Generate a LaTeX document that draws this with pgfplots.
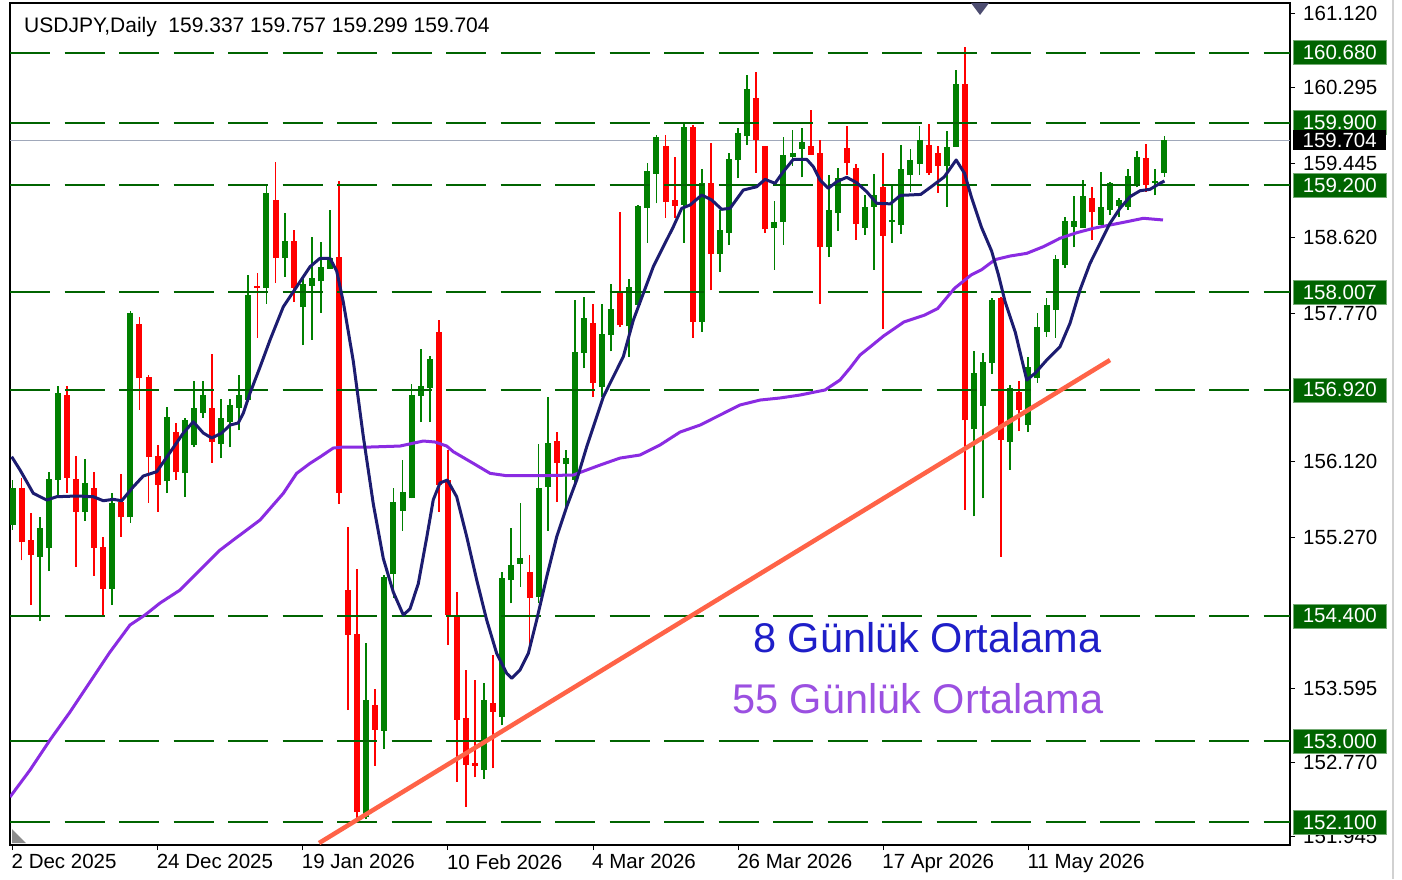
\documentclass[border=0pt]{standalone}
\usepackage{fontspec}
\setmainfont{Liberation Sans}
\usepackage{pgfplots}
\usepackage{pgfplotstable}
\pgfplotsset{compat=1.18}

\definecolor{cgreen}{RGB}{0,128,0}
\definecolor{cred}{RGB}{255,0,0}
\definecolor{lvlgreen}{RGB}{0,100,0}
\definecolor{ma8}{RGB}{28,28,112}
\definecolor{ma55}{RGB}{138,43,226}
\definecolor{trend}{RGB}{255,99,71}
\definecolor{bidgray}{RGB}{160,168,186}
\definecolor{txt8}{RGB}{30,30,200}
\definecolor{txt55}{RGB}{155,80,225}

\pgfplotstableread{
i O H L C
0 155.41 155.92 155.36 155.83
3 155.06 155.50 154.34 155.38
4 155.16 156.00 154.90 155.93
5 155.92 156.96 155.75 156.89
8 155.56 156.15 155.46 155.88
11 154.70 155.77 154.52 155.66
13 155.50 157.80 155.44 157.78
17 155.90 156.73 155.77 156.62
19 155.99 156.61 155.73 156.58
20 156.31 157.02 156.28 156.72
21 156.66 157.02 156.61 156.86
23 156.32 156.82 156.16 156.61
24 156.56 156.82 156.28 156.75
25 156.72 157.09 156.47 156.86
26 156.81 158.20 156.79 157.98
28 158.06 159.21 157.88 159.12
30 158.39 158.89 158.18 158.58
32 157.84 158.17 157.42 158.10
33 158.08 158.63 157.48 158.17
34 158.13 158.57 157.78 158.29
35 158.27 158.93 158.27 158.39
39 152.16 154.10 152.14 153.46
41 153.12 154.86 152.92 154.83
42 154.87 155.83 154.60 155.67
43 155.57 156.14 155.35 155.78
44 155.71 156.99 155.71 156.86
45 156.85 157.38 156.56 156.96
46 156.94 157.30 156.56 157.26
52 152.68 153.65 152.58 153.46
54 153.27 154.89 153.18 154.82
55 154.80 155.38 154.54 154.97
56 154.98 155.66 154.72 155.05
58 154.61 156.32 154.54 155.83
59 155.84 156.84 155.35 156.33
61 156.09 156.25 155.58 156.16
62 155.92 157.92 155.88 157.34
63 157.33 157.96 157.16 157.72
65 156.95 157.88 156.84 157.54
66 157.53 158.10 157.35 157.82
68 157.63 158.16 157.29 158.07
69 157.87 158.98 157.87 158.97
70 158.95 159.45 158.56 159.36
71 159.33 159.76 159.00 159.74
74 158.98 159.91 158.56 159.85
76 157.68 159.38 157.57 159.23
78 158.44 158.93 158.24 158.70
79 158.67 159.56 158.54 159.50
80 159.48 159.84 159.28 159.79
81 159.75 160.43 159.65 160.28
84 158.73 159.03 158.26 158.79
85 158.79 159.74 158.54 159.54
86 159.52 159.82 159.42 159.56
87 159.61 159.84 159.29 159.68
90 158.51 159.32 158.40 158.93
91 158.89 159.40 158.69 159.28
94 158.73 159.09 158.65 158.96
95 158.96 159.33 158.26 159.09
97 158.79 159.22 158.56 158.80
98 158.76 159.65 158.66 159.38
99 159.32 159.61 159.13 159.48
100 159.44 159.86 159.32 159.71
103 159.42 159.81 158.96 159.63
104 159.63 160.49 159.63 160.33
106 156.48 157.35 155.51 157.11
107 156.74 157.33 155.71 157.23
108 157.22 157.95 157.10 157.92
110 156.34 156.98 156.03 156.94
112 156.53 157.29 156.45 157.18
113 157.05 157.78 157.00 157.62
114 157.57 157.95 157.51 157.87
115 157.81 158.42 157.50 158.38
116 158.31 158.85 158.28 158.80
117 158.74 159.08 158.51 158.80
118 158.73 159.26 158.73 159.08
120 158.76 159.35 158.76 158.96
121 158.93 159.24 158.87 159.23
122 158.97 159.06 158.85 159.04
123 158.96 159.38 158.93 159.31
124 159.19 159.58 159.18 159.52
126 159.23 159.38 159.09 159.24
127 159.337 159.757 159.299 159.704
}\greens

\pgfplotstableread{
i O H L C
1 155.83 155.94 155.02 155.22
2 155.25 155.55 154.52 155.08
6 156.86 156.96 155.77 155.94
7 155.93 156.18 154.95 155.56
9 155.83 156.00 154.85 155.16
10 155.17 155.28 154.41 154.70
12 155.67 155.98 155.28 155.50
14 157.66 157.73 156.70 157.05
15 157.06 157.09 155.66 156.17
16 156.18 156.31 155.56 155.86
18 156.45 156.55 155.92 156.00
22 156.72 157.32 156.11 156.34
27 158.08 158.22 157.50 158.06
29 159.04 159.46 158.11 158.39
31 158.58 158.70 157.90 158.06
36 158.40 159.25 155.65 155.77
37 154.69 155.39 153.35 154.19
38 154.20 154.92 152.15 152.21
40 153.41 153.58 152.73 153.13
47 157.57 157.70 155.56 155.86
48 155.92 156.25 154.08 154.41
49 154.41 154.67 152.55 153.24
50 153.26 153.80 152.27 152.74
51 152.76 153.69 152.60 152.73
53 153.43 153.96 152.70 153.33
57 154.89 155.08 154.08 154.60
60 156.35 156.45 155.67 156.11
64 157.67 157.88 156.84 157.00
67 158.00 158.90 157.62 157.64
72 159.64 159.76 158.84 159.02
73 159.04 159.52 158.84 158.97
75 159.85 159.87 157.50 157.68
77 159.23 159.67 158.03 158.44
82 160.18 160.47 159.34 159.71
83 159.64 159.64 158.67 158.71
88 159.64 160.04 159.54 159.54
89 159.56 159.71 157.88 158.51
92 159.62 159.86 159.32 159.45
93 159.40 159.44 158.59 158.77
96 159.18 159.56 157.60 158.64
101 159.65 159.89 159.32 159.34
102 159.56 159.64 159.12 159.42
105 160.33 160.74 155.58 156.58
109 157.95 157.96 155.06 156.36
111 156.90 157.02 156.46 156.70
119 159.06 159.18 158.59 158.90
125 159.51 159.66 159.13 159.21
}\reds

\pgfplotstableread{
i v
-0.09 156.175
0.83 156.027
1.57 155.896
2.29 155.767
3.77 155.692
4.87 155.729
7.08 155.737
8.91 155.729
10.01 155.684
11.11 155.700
12.04 155.684
13.32 155.840
14.42 155.960
15.90 156.008
17.55 156.250
18.83 156.439
19.93 156.565
21.04 156.439
21.96 156.384
23.06 156.439
23.98 156.528
24.89 156.551
25.45 156.662
26.19 156.885
27.29 157.175
28.39 157.476
29.86 157.848
31.33 158.071
32.80 158.294
33.90 158.388
35.00 158.388
35.74 158.246
36.47 157.900
37.57 157.242
38.68 156.398
39.78 155.647
40.88 155.041
41.98 154.666
43.09 154.410
43.83 154.479
44.74 154.760
45.67 155.275
46.39 155.695
47.13 155.882
47.94 155.915
48.97 155.729
50.08 155.283
51.18 154.800
52.28 154.354
53.38 153.982
54.49 153.759
55.04 153.704
55.95 153.796
56.87 153.982
57.79 154.354
58.90 154.837
60.00 155.283
61.10 155.617
62.20 155.915
63.31 156.287
65.14 156.844
66.24 157.067
67.34 157.290
68.45 157.699
69.55 157.997
70.65 158.294
71.75 158.517
72.86 158.740
73.78 158.945
74.70 158.982
75.99 159.093
77.09 159.038
78.19 158.934
79.11 158.945
80.57 159.149
82.05 159.186
82.97 159.268
84.07 159.224
84.98 159.353
86.09 159.492
87.56 159.492
88.29 159.409
89.03 159.261
89.94 159.168
90.87 159.242
91.97 159.291
93.07 159.231
94.18 159.130
95.28 159.001
96.78 158.995
97.89 159.089
100.13 159.100
101.25 159.183
102.73 159.296
104.04 159.484
104.97 159.334
105.72 159.070
106.84 158.731
107.95 158.468
108.70 158.203
109.44 157.902
110.56 157.563
111.82 157.030
112.73 157.105
114.02 157.253
115.49 157.402
116.59 157.663
117.69 158.034
118.80 158.332
119.90 158.555
121.00 158.778
122.10 158.945
123.21 159.075
124.31 159.141
125.41 159.157
126.51 159.224
127.00 159.250
}\maeight

\pgfplotstableread{
i v
-0.28 152.380
1.93 152.681
4.13 153.016
6.34 153.328
8.54 153.662
10.75 153.997
12.95 154.298
14.61 154.410
16.26 154.543
18.47 154.688
20.67 154.911
22.88 155.134
24.34 155.246
27.29 155.469
29.86 155.767
31.33 155.990
32.80 156.101
33.90 156.172
35.37 156.272
36.47 156.283
39.41 156.283
42.72 156.294
45.29 156.350
46.58 156.339
47.87 156.294
48.60 156.231
50.80 156.101
52.65 155.990
54.49 155.963
58.16 155.963
61.83 155.971
63.31 156.027
64.78 156.082
66.98 156.160
69.18 156.194
71.39 156.306
73.60 156.450
75.80 156.528
78.01 156.640
80.21 156.752
82.42 156.807
84.62 156.830
86.82 156.863
89.58 156.919
91.23 157.030
92.34 157.164
93.44 157.309
94.54 157.398
96.03 157.521
98.27 157.677
100.50 157.752
102.00 157.827
103.86 158.053
105.72 158.204
106.84 158.260
108.33 158.373
109.98 158.413
111.82 158.443
113.65 158.517
115.49 158.611
117.33 158.673
119.16 158.722
121.00 158.759
122.85 158.796
124.68 158.834
126.84 158.815
}\mafifty

\begin{document}
\begin{tikzpicture}[x=1pt,y=1pt]
\useasboundingbox (0,0) rectangle (1402,879);
\fill[white] (0,0) rectangle (1402,879);
\draw[black!18, line width=2pt] (1393,0) -- (1393,879);
\begin{axis}[
  at={(10pt,34pt)}, anchor=south west,
  scale only axis, width=1280pt, height=842pt,
  xmin=-0.276, xmax=140.85, ymin=151.845, ymax=161.235,
  axis line style={black, line width=1.2pt},
  tick align=outside, major tick length=5pt,
  tick style={black, line width=1pt},
  xtick pos=left, ytick pos=right, yticklabel pos=right,
  xtick={0,16,32,48,64,80,96,112},
  xticklabels={2 Dec 2025, 24 Dec 2025, 19 Jan 2026, 10 Feb 2026, 4 Mar 2026, 26 Mar 2026, 17 Apr 2026, 11 May 2026},
  ytick={161.12,160.295,159.445,158.62,157.77,156.12,155.27,153.595,152.77,151.945},
  yticklabels={161.120,160.295,159.445,158.620,157.770,156.120,155.270,153.595,152.770,151.945},
  ticklabel style={font=\fontsize{20.5}{24}\selectfont, inner sep=0pt},
  xticklabel style={anchor=north west, xshift=-1pt, yshift=-4pt},
  yticklabel style={anchor=west, xshift=8pt},
]
\addplot[bidgray, line width=1.5pt, forget plot] coordinates {(-0.276,159.704) (140.85,159.704)};
% wicks
\addplot[draw=none, no markers, forget plot, error bars/.cd, y dir=plus, y explicit, error mark=none,
  error bar style={draw=cgreen, solid, line width=1.8pt}]
  table[x=i, y=L, y error plus expr=\thisrow{H}-\thisrow{L}] {\greens};
\addplot[draw=none, no markers, forget plot, error bars/.cd, y dir=plus, y explicit, error mark=none,
  error bar style={draw=cred, solid, line width=1.8pt}]
  table[x=i, y=L, y error plus expr=\thisrow{H}-\thisrow{L}] {\reds};
% bodies
\addplot[draw=none, no markers, forget plot, error bars/.cd, y dir=plus, y explicit, error mark=none,
  error bar style={draw=cgreen, solid, line width=6pt}]
  table[x=i, y=O, y error plus expr={max(\thisrow{C}-\thisrow{O},0.02)}] {\greens};
\addplot[draw=none, no markers, forget plot, error bars/.cd, y dir=plus, y explicit, error mark=none,
  error bar style={draw=cred, solid, line width=6pt}]
  table[x=i, y=C, y error plus expr={max(\thisrow{O}-\thisrow{C},0.02)}] {\reds};
% level lines
\pgfplotsinvokeforeach{160.68,159.9,159.2,158.007,156.92,154.4,153.0,152.1}{
  \addplot[lvlgreen, line width=2pt, dash pattern=on 40pt off 14.5pt, forget plot] coordinates {(-0.276,#1) (140.85,#1)};
}
% moving averages
\addplot[ma55, line width=3pt, line join=round] table[x=i,y=v] {\mafifty};
\addplot[ma8, line width=3pt, line join=round] table[x=i,y=v] {\maeight};
% trend line
\addplot[trend, line width=4.5pt] coordinates {(33.8,151.867) (121.0,157.253)};

\node[anchor=base west, inner sep=0pt, font=\fontsize{21}{25}\selectfont, xshift=14pt, yshift=-30pt] at (rel axis cs:0,1) {USDJPY,Daily\ \ 159.337 159.757 159.299 159.704};
\node[anchor=base west, inner sep=0pt, text=txt8, font=\fontsize{41.5}{48}\selectfont] at (axis cs:81.64,153.997) {8 Günlük Ortalama};
\node[anchor=base west, inner sep=0pt, text=txt55, font=\fontsize{41.5}{48}\selectfont] at (axis cs:79.33,153.317) {55 Günlük Ortalama};

\coordinate (b1) at (axis cs:140.85,160.68);
\coordinate (b2) at (axis cs:140.85,159.9);
\coordinate (b3) at (axis cs:140.85,159.2);
\coordinate (b4) at (axis cs:140.85,158.007);
\coordinate (b5) at (axis cs:140.85,156.92);
\coordinate (b6) at (axis cs:140.85,154.4);
\coordinate (b7) at (axis cs:140.85,153.0);
\coordinate (b8) at (axis cs:140.85,152.1);
\coordinate (bid) at (axis cs:140.85,159.704);
\end{axis}
\foreach \c/\t in {b1/160.680, b2/159.900, b3/159.200, b4/158.007, b5/156.920, b6/154.400, b7/153.000, b8/152.100}{
  \node[fill=lvlgreen, draw=lvlgreen!55!white, line width=0.6pt, text=white, anchor=west, xshift=3pt,
        minimum width=93pt, minimum height=24pt, inner sep=0pt, font=\fontsize{20.5}{24}\selectfont] at (\c) {\t};
}
\node[fill=black, text=white, anchor=west, xshift=3pt, minimum width=93pt, minimum height=20pt, inner sep=0pt,
      font=\fontsize{20.5}{24}\selectfont] at (bid) {159.704};
\fill[black!65!blue!40!gray] (971,876) -- (989,876) -- (980,864) -- cycle;
\fill[black!45] (12,36) -- (26,36) -- (12,50) -- cycle;
\end{tikzpicture}
\end{document}
